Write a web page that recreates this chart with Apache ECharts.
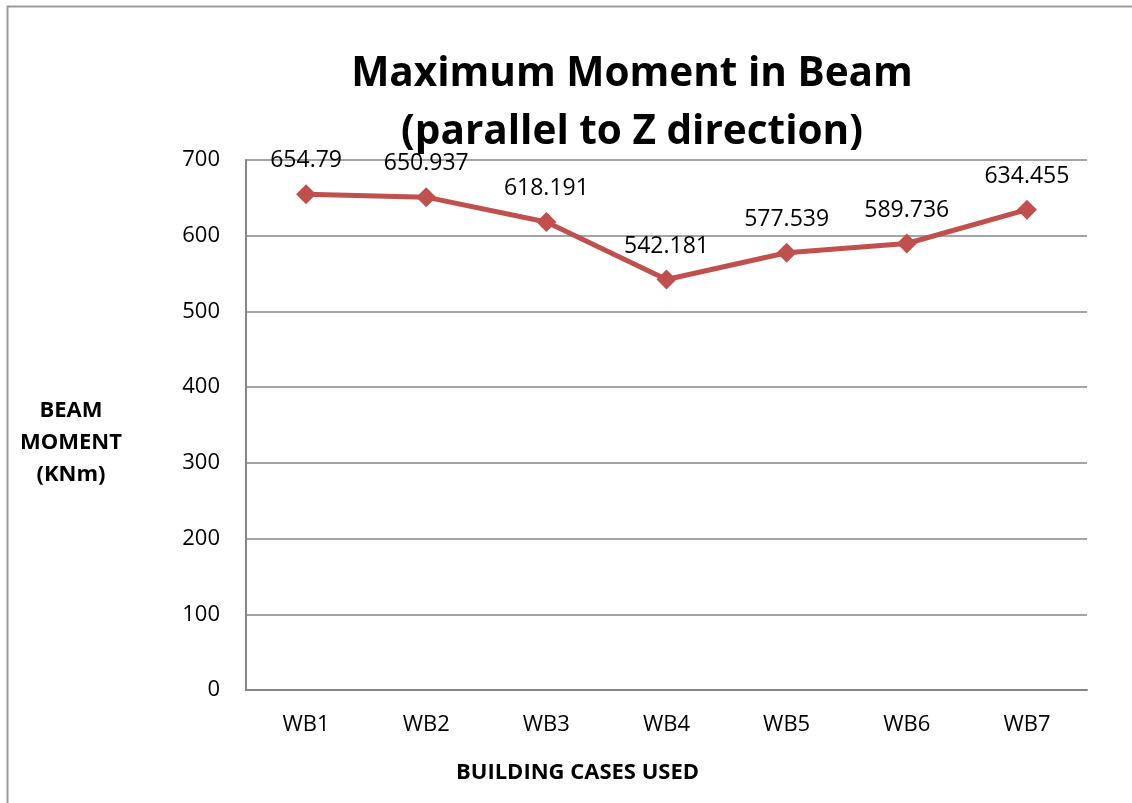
<!DOCTYPE html>
<html>
<head>
<meta charset="utf-8">
<script src="https://cdn.jsdelivr.net/npm/echarts@6/dist/echarts.min.js"></script>
<style>
  html, body { margin: 0; padding: 0; background: #fff; }
  #main { width: 1132px; height: 803px; }
</style>
</head>
<body>
<div id="main"></div>
<script>
// chart data
var categories = ['WB1', 'WB2', 'WB3', 'WB4', 'WB5', 'WB6', 'WB7'];
var momentValues = [654.79, 650.937, 618.191, 542.181, 577.539, 589.736, 634.455];
var labelText = ['654.79', '650.937', '618.191', '542.181', '577.539', '589.736', '634.455'];

var font = '"Open Sans", sans-serif';
var myChart = echarts.init(document.getElementById('main'));

var option = {
    animation: false,
    backgroundColor: '#fff',
    title: {
        text: 'Maximum Moment in Beam\n(parallel to Z direction)',
        left: 627,
        top: 40,
        textAlign: 'center',
        textStyle: {
            fontFamily: font,
            fontWeight: 'bold',
            fontSize: 40.5,
            lineHeight: 58,
            color: '#000'
        }
    },
    graphic: [{
        type: 'rect',
        shape: { x: 7.5, y: 6.5, width: 1200, height: 900 },
        style: { fill: 'none', stroke: '#999', lineWidth: 2 },
        silent: true
    }, {
        type: 'text',
        x: 71,
        y: 443,
        style: {
            text: 'BEAM\nMOMENT\n(KNm)',
            font: 'bold 22px ' + font,
            lineHeight: 32,
            align: 'center',
            verticalAlign: 'middle',
            fill: '#000'
        }
    }],
    grid: {
        left: 246,
        right: 45,
        top: 160,
        bottom: 113
    },
    xAxis: {
        type: 'category',
        data: categories,
        boundaryGap: true,
        name: 'BUILDING CASES USED',
        nameLocation: 'middle',
        nameGap: 72,
        nameTextStyle: {
            fontFamily: font,
            fontWeight: 'bold',
            fontSize: 22,
            color: '#000',
            padding: [0, 178, 0, 0]
        },
        axisLine: { lineStyle: { color: '#868686', width: 2 } },
        axisTick: { show: false },
        axisLabel: {
            fontFamily: font,
            fontSize: 22,
            color: '#000',
            margin: 24
        }
    },
    yAxis: {
        type: 'value',
        min: 0,
        max: 700,
        interval: 100,
        axisLine: { show: true, lineStyle: { color: '#868686', width: 2 } },
        axisTick: { show: false },
        splitLine: { lineStyle: { color: '#868686', width: 1.5 } },
        axisLabel: {
            fontFamily: font,
            fontSize: 22,
            color: '#000',
            margin: 26
        }
    },
    series: [{
        name: 'Beam Moment',
        type: 'line',
        data: momentValues,
        symbol: 'diamond',
        symbolSize: 20,
        lineStyle: { color: '#C0504D', width: 5 },
        itemStyle: { color: '#C0504D' },
        label: {
            show: true,
            position: 'top',
            distance: 12,
            fontFamily: font,
            fontSize: 23,
            color: '#000',
            formatter: function (p) { return labelText[p.dataIndex]; }
        }
    }]
};

myChart.setOption(option);
</script>
</body>
</html>
